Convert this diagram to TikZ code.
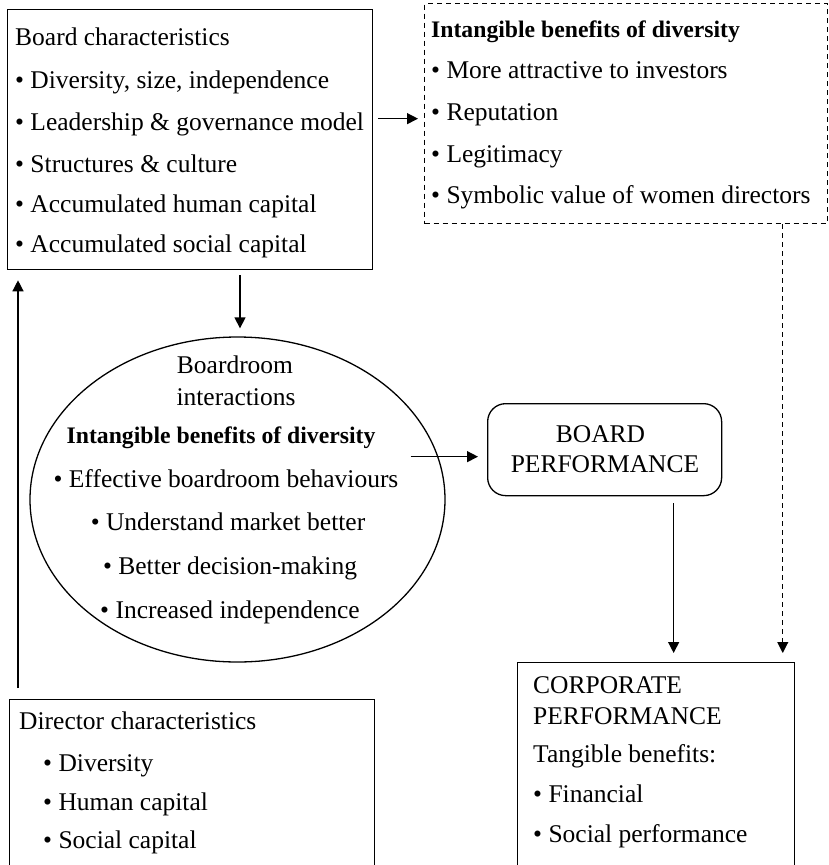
\documentclass[tikz,border=0pt]{standalone}
\usepackage{fontspec}
\setmainfont{Liberation Serif}
\usetikzlibrary{shapes.geometric,arrows.meta}
\newcommand\myfs{\fontsize{25.5pt}{30pt}\selectfont}
\newcommand\mybf[1]{{\fontsize{23.7pt}{30pt}\selectfont\bfseries #1}}
\begin{document}
\begin{tikzpicture}[x=1pt,y=-1pt,
  box/.style={draw, line width=1.3pt, anchor=north west, inner sep=0pt},
  txt/.style={anchor=base west, inner sep=0pt, font=\myfs},
  ctxt/.style={anchor=base, inner sep=0pt, font=\myfs},
  arr/.style={line width=1.3pt, -{Triangle[length=11pt,width=11pt]}},
  dsh/.style={line width=1pt, dash pattern=on 5pt off 4pt}]
\useasboundingbox (0,0) rectangle (828,865);
\clip (0,0) rectangle (828,865);

% boxes
\node[box, minimum width=365pt, minimum height=260pt] (board) at (7,9) {};
\node[box, dsh, minimum width=402.5pt, minimum height=220pt] (dash) at (424,3) {};
\node[draw, line width=1.3pt, ellipse, inner sep=0pt, minimum width=415pt, minimum height=325pt] (ell) at (237.5,499.5) {};
\node[box, rounded corners=18pt, minimum width=234pt, minimum height=92pt] (bp) at (487,403) {};
\node[box, minimum width=277pt, minimum height=230pt] (corp) at (517,662) {};
\node[box, minimum width=365pt, minimum height=200pt] (dir) at (9,699) {};

% board characteristics
\node[txt] (b0) at (15,45) {Board characteristics};
\node[txt] (b1) at (15,88) {• Diversity, size, independence};
\node[txt] (b2) at (15,130) {• Leadership \& governance model};
\node[txt] (b3) at (15,172) {• Structures \& culture};
\node[txt] (b4) at (15,212) {• Accumulated human capital};
\node[txt] (b5) at (15,252) {• Accumulated social capital};

% intangible benefits (dashed)
\node[txt] (d0) at (431,37) {\mybf{Intangible benefits of diversity}};
\node[txt] (d1) at (431,78) {• More attractive to investors};
\node[txt] (d2) at (431,120) {• Reputation};
\node[txt] (d3) at (431,162) {• Legitimacy};
\node[txt] (d4) at (431,203) {• Symbolic value of women directors};

% ellipse
\node[ctxt] (e0) at (235,373) {Boardroom};
\node[ctxt] (e1) at (236,405) {interactions};
\node[ctxt] (e2) at (221,443) {\mybf{Intangible benefits of diversity}};
\node[ctxt] (e3) at (226,487) {• Effective boardroom behaviours};
\node[ctxt] (e4) at (228,530) {• Understand market better};
\node[ctxt] (e5) at (230,574) {• Better decision-making};
\node[ctxt] (e6) at (230,618) {• Increased independence};

% board performance
\node[ctxt] (p0) at (600.5,442) {BOARD};
\node[ctxt] (p1) at (605,472) {PERFORMANCE};

% corporate performance
\node[txt] (c0) at (533,693) {CORPORATE};
\node[txt] (c1) at (533,724) {PERFORMANCE};
\node[txt] (c2) at (533,762) {Tangible benefits:};
\node[txt] (c3) at (533,802) {• Financial};
\node[txt] (c4) at (533,842) {• Social performance};

% director characteristics
\node[txt] (r0) at (19,729) {Director characteristics};
\node[txt] (r1) at (43,771) {• Diversity};
\node[txt] (r2) at (43,810) {• Human capital};
\node[txt] (r3) at (43,848) {• Social capital};

% connectors
\coordinate (s1) at ([xshift=5pt,yshift=21pt]board.east);
\draw[arr, shorten >=6pt] (s1) -- (s1 -| dash.west);

\coordinate (s2) at (ell.north |- board.south);
\draw[arr] ([xshift=2.5pt,yshift=-5pt]s2) -- ([xshift=2.5pt,yshift=8pt]ell.north);

\draw[arr] ([xshift=9pt,yshift=11pt]dir.north west) -- ([xshift=11pt,yshift=-10pt]board.south west);

\coordinate (s4) at ([yshift=-7pt]bp.west);
\coordinate (s4b) at (ell.east |- s4);
\draw[arr] ([xshift=-35pt]s4b) -- ([xshift=-9pt]s4);

\coordinate (s5) at ([xshift=69pt]bp.south);
\coordinate (e5) at (s5 |- corp.north);
\draw[arr] ([yshift=-7pt]s5) -- ([yshift=9pt]e5);

\coordinate (s6) at ([xshift=157pt]dash.south);
\coordinate (e6) at (s6 |- corp.north);
\draw[arr, dsh] (s6) -- ([yshift=9pt]e6);
\end{tikzpicture}
\end{document}
